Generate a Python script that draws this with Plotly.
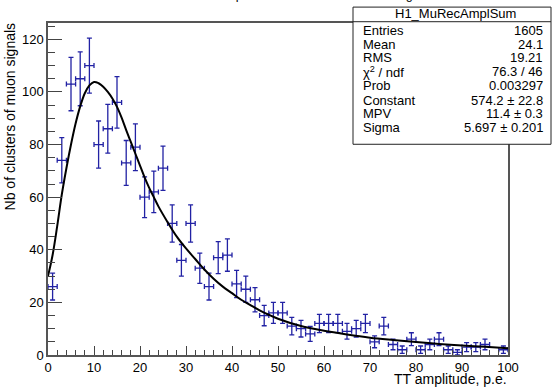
import numpy as np
import plotly.graph_objects as go

# ---------------- data ----------------
bin_centers = [1, 3, 5, 7, 9, 11, 13, 15, 17, 19, 21, 23, 25, 27, 29, 31, 33, 35, 37, 39,
               41, 43, 45, 47, 49, 51, 53, 55, 57, 59, 61, 63, 65, 67, 69, 71, 73, 75, 77, 79,
               81, 83, 85, 87, 89, 91, 93, 95, 97, 99]
counts = [26, 74, 103, 105, 110, 80, 86, 96, 73, 79, 60, 62, 71, 50, 36, 50, 33, 26, 37, 38,
          27, 25, 21, 15, 16, 16, 11, 10, 8, 12, 12, 12, 9, 10, 12, 5, 11, 4, 2, 6,
          2, 4, 6, 2, 1, 3, 3, 4, 0, 2]
bin_half_width = 1.0

fit_x = [0, 1, 2, 3, 4, 5, 6, 7, 8, 9, 10, 11, 12, 13, 14, 15, 16, 17, 18, 19, 20, 21, 22, 23,
         24, 26, 28, 30, 32, 34, 36, 38, 40, 42, 44, 46, 48, 50, 55, 60, 65, 70, 75, 80, 85,
         90, 95, 100]
fit_y = [30, 38, 49, 61, 71, 80, 88, 94.5, 99.5, 102.5, 103.8, 103.3, 102, 100, 97.5, 94.3,
         90.2, 85.5, 81, 76.5, 72, 67.5, 63.5, 60, 56.5, 50.5, 45, 40.5, 36.5, 32.5, 29, 26,
         23.5, 21, 19, 17, 15.3, 13.8, 11, 9.2, 7.8, 6.6, 5.7, 4.9, 4.2, 3.6, 3.1, 2.6]

title_text = "Sum of reconstructed amplitudes for clusters of muon signals"
x_title = "TT amplitude, p.e."
y_title = "Nb of clusters of muon signals"

stats_name = "H1_MuRecAmplSum"
stat_labels = ["Entries", "Mean", "RMS", "χ<sup>2</sup> / ndf", "Prob", "Constant", "MPV", "Sigma"]
stat_values = ["1605", "24.1", "19.21", "76.3 / 46", "0.003297", "574.2 ± 22.8", "11.4 ± 0.3",
               "5.697 ± 0.201"]

# ---------------- figure ----------------
FONT = "Liberation Sans, Arial, Helvetica, sans-serif"
W, H = 553, 387
ML, MR, MT, MB = 48, 45, 23, 30
PW, PH = W - ML - MR, H - MT - MB


def px(xp):
    return (xp - ML) / PW


def py(yp):
    return (H - MB - yp) / PH


xs = np.array(bin_centers, dtype=float)
ys = np.array(counts, dtype=float)
mask = ys > 0
xs, ys = xs[mask], ys[mask]
err = np.sqrt(ys)

ebar_color = "#2222a4"

fig = go.Figure()
fig.add_trace(go.Scatter(
    x=xs, y=ys, mode="markers",
    marker=dict(size=1, color=ebar_color),
    error_y=dict(type="data", array=err, visible=True, color=ebar_color, thickness=1.3, width=2.5),
    error_x=dict(type="constant", value=bin_half_width, visible=True, color=ebar_color,
                 thickness=1.3, width=2.5),
    showlegend=False, hoverinfo="skip",
))
fig.add_trace(go.Scatter(
    x=fit_x, y=fit_y, mode="lines", line=dict(color="black", width=2, shape="spline"),
    showlegend=False, hoverinfo="skip",
))

axis_common = dict(
    showgrid=False, zeroline=False, showline=True, mirror=True,
    linecolor="#555", linewidth=1.5, ticks="inside", tickcolor="#444", tickwidth=1.2,
    tickfont=dict(family=FONT, size=13, color="black"),
)
fig.update_xaxes(range=[0, 100], dtick=10, tick0=0, ticklen=9,
                 minor=dict(dtick=2, ticklen=5, ticks="inside", tickcolor="#444", tickwidth=1),
                 **axis_common)
fig.update_yaxes(range=[0, 126.2], dtick=20, tick0=0, ticklen=14,
                 minor=dict(dtick=5, ticklen=7, ticks="inside", tickcolor="#444", tickwidth=1),
                 **axis_common)

annotations = []
# cut-off title at the very top
annotations.append(dict(text=title_text, x=px(265.5), y=py(-5), xref="paper", yref="paper",
                        xanchor="center", yanchor="middle", showarrow=False,
                        font=dict(family=FONT, size=12.6, color="black")))
# axis titles
annotations.append(dict(text=x_title, x=px(509), y=py(381), xref="paper", yref="paper",
                        xanchor="right", yanchor="middle", showarrow=False,
                        font=dict(family=FONT, size=14, color="black")))
annotations.append(dict(text=y_title, x=px(10), y=py(117), xref="paper", yref="paper",
                        xanchor="center", yanchor="middle", showarrow=False, textangle=-90,
                        font=dict(family=FONT, size=14, color="black")))
# stats box text
annotations.append(dict(text=stats_name, x=px(455), y=py(13.5), xref="paper", yref="paper",
                        xanchor="center", yanchor="middle", showarrow=False,
                        font=dict(family=FONT, size=13, color="black")))
row_y = [31, 44.5, 58, 72, 86, 100.5, 114.5, 128.5]
for lab, val, ry in zip(stat_labels, stat_values, row_y):
    annotations.append(dict(text=lab, x=px(361), y=py(ry), xref="paper", yref="paper",
                            xanchor="left", yanchor="middle", showarrow=False,
                            font=dict(family=FONT, size=13, color="black")))
    annotations.append(dict(text=val, x=px(545), y=py(ry), xref="paper", yref="paper",
                            xanchor="right", yanchor="middle", showarrow=False,
                            font=dict(family=FONT, size=13, color="black")))

shapes = [
    dict(type="rect", xref="paper", yref="paper", x0=px(353), x1=px(551), y0=py(145), y1=py(7),
         fillcolor="white", line=dict(color="#222", width=1), layer="above"),
    dict(type="line", xref="paper", yref="paper", x0=px(353), x1=px(551), y0=py(21.7), y1=py(21.7),
         line=dict(color="#222", width=1), layer="above"),
]

fig.update_layout(
    width=W, height=H, margin=dict(l=ML, r=MR, t=MT, b=MB, pad=0),
    paper_bgcolor="white", plot_bgcolor="white",
    annotations=annotations, shapes=shapes,
    font=dict(family=FONT),
)

fig.write_html(
    "out.html",
    config={"displayModeBar": False},
    post_script="document.body.style.margin='0';document.body.style.padding='0';"
                "document.body.style.overflow='hidden';",
)
